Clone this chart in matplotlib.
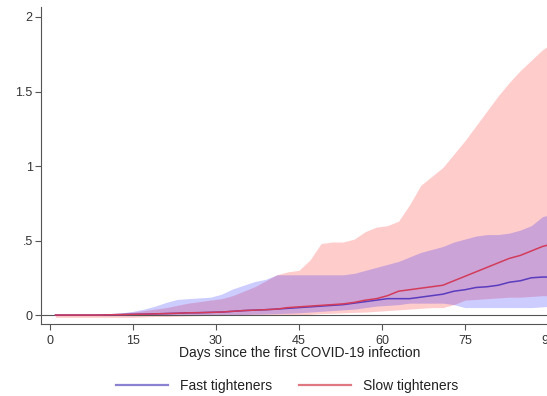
import matplotlib
matplotlib.use("Agg")
import matplotlib.pyplot as plt
from matplotlib.lines import Line2D
import numpy as np

plt.rcParams['font.family'] = ['Liberation Sans', 'DejaVu Sans']

days = list(range(1, 92, 2))

fast_mean = [0, 0, 0, 0, 0, 0.002, 0.003, 0.005, 0.006, 0.008, 0.01, 0.012, 0.015, 0.016, 0.018,
             0.02, 0.025, 0.03, 0.033, 0.036, 0.04, 0.045, 0.05, 0.055, 0.06, 0.065, 0.07, 0.08,
             0.09, 0.10, 0.11, 0.11, 0.11, 0.12, 0.13, 0.14, 0.16, 0.17, 0.185, 0.19, 0.20, 0.22,
             0.23, 0.25, 0.255, 0.255]
fast_low = [0, 0, 0, 0, 0, 0, 0, 0, 0, 0, 0, 0, 0, 0, 0,
            0, 0.002, 0.004, 0.006, 0.008, 0.01, 0.012, 0.015, 0.02, 0.025, 0.03, 0.035, 0.04,
            0.05, 0.06, 0.065, 0.07, 0.08, 0.08, 0.08, 0.08, 0.07, 0.05, 0.05, 0.05, 0.05, 0.05,
            0.05, 0.05, 0.055, 0.06]
fast_high = [0, 0, 0, 0, 0.005, 0.01, 0.015, 0.025, 0.04, 0.06, 0.085, 0.105, 0.11, 0.115, 0.12,
             0.14, 0.175, 0.20, 0.225, 0.24, 0.27, 0.27, 0.27, 0.27, 0.27, 0.27, 0.27, 0.28,
             0.30, 0.32, 0.34, 0.36, 0.39, 0.42, 0.44, 0.46, 0.49, 0.51, 0.53, 0.54, 0.54, 0.55,
             0.57, 0.60, 0.66, 0.68]

slow_mean = [0, 0, 0, 0, 0, 0.002, 0.003, 0.005, 0.006, 0.008, 0.01, 0.012, 0.015, 0.016, 0.018,
             0.02, 0.025, 0.03, 0.033, 0.036, 0.04, 0.05, 0.055, 0.06, 0.065, 0.07, 0.075, 0.085,
             0.10, 0.11, 0.13, 0.16, 0.17, 0.18, 0.19, 0.20, 0.23, 0.26, 0.29, 0.32, 0.35, 0.38,
             0.40, 0.43, 0.46, 0.48]
slow_low = [-0.015, -0.015, -0.015, -0.015, -0.015, -0.015, -0.015, -0.015, -0.012, -0.01, -0.01,
            -0.008, -0.006, -0.004, -0.002, 0, 0, 0, 0, 0, 0, 0, 0, 0.005, 0.01, 0.012, 0.015,
            0.018, 0.02, 0.025, 0.03, 0.035, 0.04, 0.045, 0.05, 0.05, 0.07, 0.10, 0.105, 0.11,
            0.115, 0.12, 0.12, 0.125, 0.13, 0.13]
slow_high = [0, 0, 0, 0, 0.005, 0.01, 0.015, 0.02, 0.03, 0.04, 0.05, 0.065, 0.08, 0.09, 0.10,
             0.11, 0.13, 0.16, 0.19, 0.23, 0.27, 0.29, 0.30, 0.37, 0.48, 0.49, 0.49, 0.51, 0.56,
             0.59, 0.60, 0.63, 0.74, 0.87, 0.93, 0.99, 1.08, 1.17, 1.27, 1.37, 1.47, 1.56, 1.64,
             1.71, 1.78, 1.83]

xticks = [0, 15, 30, 45, 60, 75, 90]
yticks = [0, 0.5, 1, 1.5, 2]
ytick_labels = ["0", ".5", "1", "1.5", "2"]
series_labels = ["Fast tighteners", "Slow tighteners"]

fig = plt.figure(figsize=(5.47, 3.96), dpi=100)
ax = fig.add_axes([41/547, 1 - 324/396, (559 - 41)/547, (324 - 7)/396])

ax.fill_between(days, slow_low, slow_high, color=(1, 0, 0), alpha=0.2, linewidth=0)
ax.fill_between(days, fast_low, fast_high, color=(0, 0, 1), alpha=0.2, linewidth=0)
ax.axhline(0, color='#555555', lw=0.8, zorder=1)
ax.plot(days, fast_mean, color='#5a3cbe', lw=1.1, zorder=3)
ax.plot(days, slow_mean, color='#d23c5a', lw=1.1, zorder=3)

ax.set_xlim(-1.63, 92)
ax.set_ylim(-0.06, 2.067)
ax.set_xticks(xticks)
ax.set_yticks(yticks)
ax.set_yticklabels(ytick_labels)
for s in ['top', 'right']:
    ax.spines[s].set_visible(False)
for s in ['left', 'bottom']:
    ax.spines[s].set_color('#555555')
    ax.spines[s].set_linewidth(0.8)
ax.tick_params(colors='#555555', labelcolor='#333333', labelsize=9, length=4, width=0.8)
ax.tick_params(axis='x', pad=4)
ax.tick_params(axis='y', pad=2)
ax.set_xlabel("Days since the first COVID-19 infection", fontsize=10, color='#222222', labelpad=-1)

handles = [Line2D([], [], color='#8c82d2', lw=1.6), Line2D([], [], color='#e07882', lw=1.6)]
fig.legend(handles, series_labels, loc='center', bbox_to_anchor=(287/547, 1 - 386/396),
           ncol=2, frameon=False, fontsize=10, handlelength=3.8, handletextpad=0.85,
           columnspacing=1.9, labelcolor='#222222')

fig.savefig("out.png", dpi=100)
